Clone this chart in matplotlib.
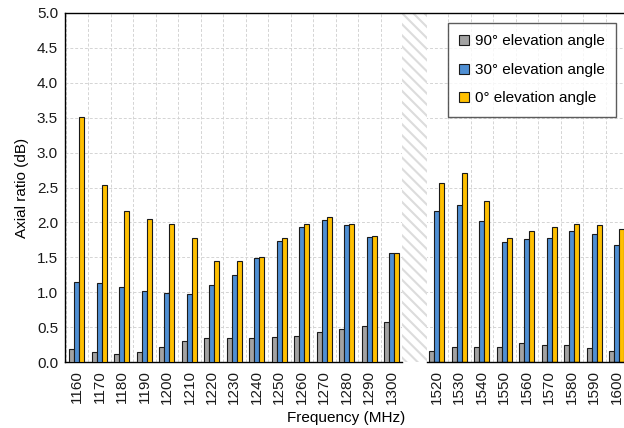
import numpy as np
import matplotlib
matplotlib.use("Agg")
import matplotlib.pyplot as plt

plt.rcParams['font.family'] = ['Liberation Sans', 'DejaVu Sans']
plt.rcParams['hatch.color'] = '#dcdcdc'
plt.rcParams['hatch.linewidth'] = 1.5

# data
freq_low = ['1160', '1170', '1180', '1190', '1200', '1210', '1220', '1230',
            '1240', '1250', '1260', '1270', '1280', '1290', '1300']
freq_high = ['1520', '1530', '1540', '1550', '1560', '1570', '1580', '1590', '1600']

ar_90 = [0.19, 0.15, 0.12, 0.14, 0.22, 0.30, 0.34, 0.35, 0.35, 0.36, 0.37, 0.43, 0.47, 0.52, 0.57,
         0.16, 0.21, 0.21, 0.22, 0.27, 0.24, 0.25, 0.20, 0.16]
ar_30 = [1.14, 1.13, 1.08, 1.02, 0.99, 0.98, 1.10, 1.25, 1.49, 1.73, 1.93, 2.04, 1.96, 1.79, 1.56,
         2.17, 2.25, 2.02, 1.72, 1.76, 1.77, 1.88, 1.84, 1.68]
ar_0 = [3.51, 2.54, 2.16, 2.05, 1.98, 1.78, 1.44, 1.45, 1.50, 1.77, 1.98, 2.08, 1.97, 1.80, 1.56,
        2.57, 2.71, 2.30, 1.78, 1.88, 1.93, 1.98, 1.96, 1.90]

labels = ['90° elevation angle', '30° elevation angle', '0° elevation angle']
colors = ['#a3a3a3', '#4f8fd3', '#ffc000']

# positions: one empty slot between the two bands
x = np.array(list(range(len(freq_low))) + list(range(len(freq_low) + 1, len(freq_low) + 1 + len(freq_high))))
gap = len(freq_low)

fig = plt.figure(figsize=(6.24, 4.28), dpi=100)
ax = fig.add_axes([65 / 624, 66 / 428, 563 / 624, 349 / 428])

w = 0.22
for k, (vals, c, lab) in enumerate(zip([ar_90, ar_30, ar_0], colors, labels)):
    ax.bar(x + (k - 1) * w, vals, width=w, color=c, edgecolor='#1a1a1a',
           linewidth=0.8, label=lab, zorder=3)

# hatched break region
ax.axvspan(gap - 0.56, gap + 0.56, facecolor='white', edgecolor='#dcdcdc',
           hatch='\\\\\\', linewidth=0, zorder=2)

ax.set_xlim(-0.53, 24.5)
ax.set_ylim(0, 5.0)
ax.set_yticks(np.arange(0, 5.01, 0.5))
ax.set_yticklabels([f'{v:.1f}' for v in np.arange(0, 5.01, 0.5)])
ax.set_xticks(x)
ax.set_xticklabels(freq_low + freq_high, rotation=90)
ax.set_xticks(np.arange(-0.5, 24.6, 1.0), minor=True)
ax.tick_params(axis='both', which='both', length=0, labelsize=11, colors='#1a1a1a')
ax.tick_params(axis='x', pad=6)
ax.tick_params(axis='y', pad=5)

ax.grid(axis='y', which='major', color='#d4d4d4', linestyle=(0, (3, 2)), linewidth=0.7, zorder=0)
ax.grid(axis='x', which='minor', color='#d4d4d4', linestyle=(0, (3, 2)), linewidth=0.7, zorder=0)
ax.set_axisbelow(True)

ax.spines['right'].set_visible(False)
ax.spines['bottom'].set_bounds(-0.53, gap - 0.56)
ax.plot([gap + 0.56, 24.5], [0, 0], color='black', linewidth=1.0, clip_on=False, zorder=4)
for s in ['left', 'top', 'bottom']:
    ax.spines[s].set_linewidth(1.0)

ax.set_ylabel('Axial ratio (dB)', fontsize=11, labelpad=6)
ax.set_xlabel('Frequency (MHz)', fontsize=11, labelpad=5)

leg = ax.legend(loc='upper right', bbox_to_anchor=(616 / 624, 1 - 23 / 428),
                bbox_transform=fig.transFigure, fontsize=11, frameon=True,
                fancybox=False, edgecolor='#333333', handlelength=0.65, handleheight=0.65,
                handletextpad=0.35, labelspacing=0.95, borderpad=0.75, borderaxespad=0)
leg.get_frame().set_linewidth(1.0)
leg.set_zorder(5)

fig.savefig('out.png', dpi=100)
